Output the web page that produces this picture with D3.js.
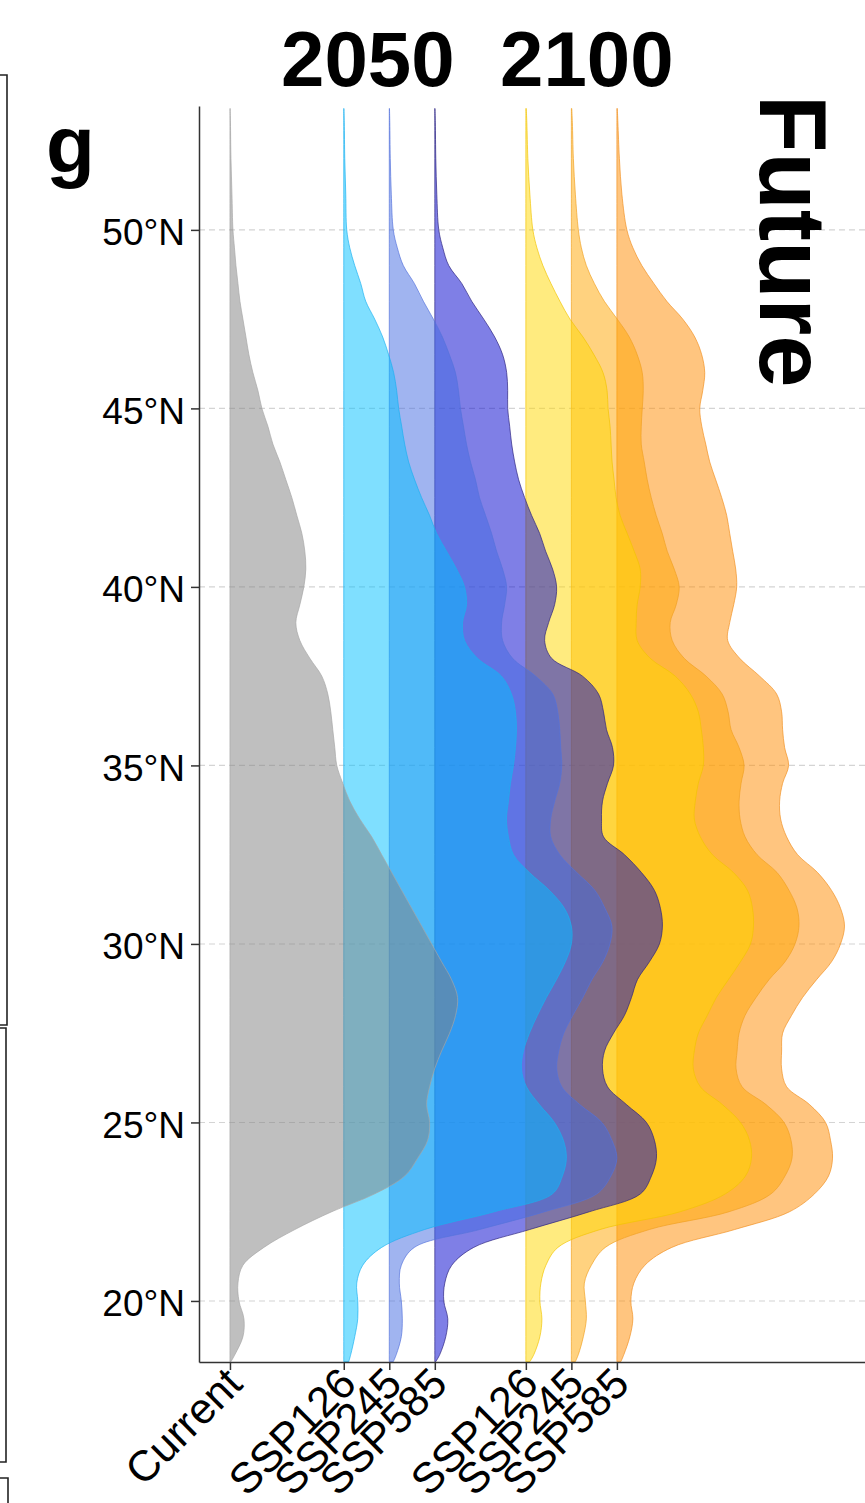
<!DOCTYPE html>
<html>
<head>
<meta charset="utf-8">
<script src="https://cdn.jsdelivr.net/npm/d3@7"></script>
<style>
  html, body { margin: 0; padding: 0; background: #fff; }
  svg { display: block; font-family: "Liberation Sans", Arial, Helvetica, sans-serif; }
</style>
</head>
<body>
<svg id="chart" width="865" height="1503"></svg>
<script>
// Latitude grid (°N) at which each distribution density is sampled
const latitudes = [18.3, 18.5, 19, 19.5, 20, 20.5, 21, 21.5, 22, 22.5, 23, 23.5, 24, 24.5, 25, 25.5,
  26, 26.5, 27, 27.5, 28, 28.5, 29, 29.5, 30, 30.5, 31, 31.5, 32, 32.5, 33, 33.5, 34, 34.5, 35, 35.5,
  36, 36.5, 37, 37.5, 38, 38.5, 39, 39.5, 40, 40.5, 41, 41.5, 42, 42.5, 43, 43.5, 44, 44.5, 45, 45.5,
  46, 46.5, 47, 47.5, 48, 48.5, 49, 49.5, 50, 51, 52, 53, 53.4];

// Scenario labels and the period each one belongs to
const scenarios = ["Current", "SSP126", "SSP245", "SSP585", "SSP126", "SSP245", "SSP585"];
const periods = ["Current", "2050", "2050", "2050", "2100", "2100", "2100"];
const periodTitles = ["2050", "2100"];

// Relative density of suitable habitat along latitude (one value per latitude)
const densityCurrent = [1, 5, 13, 14, 9, 8, 13, 34, 65, 102, 145, 175, 188, 198, 200, 197, 200, 205, 212, 220,
  226, 228, 222, 212, 202, 192, 182, 172, 162, 152, 142, 130, 120, 113, 107, 105, 103, 101, 98, 92,
  80, 70, 66, 70, 74, 76, 75, 72, 67, 62, 56, 50, 43, 38, 32, 28, 23, 19, 16, 13,
  10, 8, 6, 4.5, 3, 2, 1, 0.5, 0.2];
const density2050SSP126 = [5, 7, 11, 14, 14, 13, 19, 38, 81, 151, 209, 219, 223, 220, 211, 196, 183, 178, 180, 186,
  194, 203, 213, 222, 228, 228, 221, 206, 186, 170, 165, 163, 165, 167, 170, 172, 173, 172, 168, 158,
  134, 121, 119, 123, 121, 113, 103, 93, 86, 78, 71, 65, 61, 58, 55, 53, 50, 45, 39, 31,
  22, 17, 11, 6, 3, 2, 1, 0.5, 0.2];
const density2050SSP245 = [4, 7, 12, 13, 12, 10, 12, 25, 90, 155, 207, 221, 227, 222, 212, 190, 172, 167, 169, 174,
  183, 193, 202, 213, 220, 222, 215, 205, 187, 170, 161, 161, 165, 170, 172, 171, 170, 168, 163, 146,
  123, 113, 112, 115, 117, 113, 107, 102, 96, 90, 86, 81, 77, 74, 71, 69, 66, 60, 53, 44,
  34, 25, 14, 8, 4, 2, 1, 0.5, 0.2];
const density2050SSP585 = [1, 5, 11, 13, 9, 10, 17, 39, 95, 155, 206, 217, 222, 220, 212, 192, 173, 168, 170, 179,
  190, 197, 203, 215, 225, 228, 226, 220, 207, 190, 169, 167, 168, 173, 179, 178, 172, 169, 164, 148,
  117, 110, 114, 120, 122, 118, 111, 105, 97, 90, 84, 80, 77, 75, 73, 73, 72, 68, 60, 49,
  37, 27, 14, 8, 4, 2, 1, 0.5, 0.2];
const density2100SSP126 = [4, 8, 14, 16, 14, 15, 20, 32, 74, 154, 199, 219, 225, 223, 214, 196, 174, 167, 168, 172,
  181, 190, 202, 214, 224, 227, 226, 221, 207, 186, 174, 168, 169, 172, 177, 177, 175, 172, 164, 149,
  124, 111, 110, 111, 114, 114, 108, 101, 94, 90, 88, 86, 85, 84, 82, 81, 77, 68, 57, 44,
  34, 25, 17, 11, 7, 4, 2, 1, 0.4];
const density2100SSP245 = [4, 7, 12, 15, 14, 13, 20, 34, 78, 158, 200, 214, 221, 220, 213, 195, 171, 165, 166, 168,
  174, 185, 198, 214, 224, 228, 226, 218, 206, 186, 174, 169, 168, 170, 173, 168, 160, 157, 151, 135,
  113, 101, 99, 105, 108, 103, 96, 91, 85, 80, 76, 73, 70, 70, 71, 72, 71, 66, 58, 46,
  33, 23, 15, 10, 7, 4, 2, 1, 0.4];
const density2100SSP585 = [4, 7, 13, 16, 14, 17, 28, 55, 118, 173, 198, 212, 216, 214, 209, 193, 170, 165, 165, 166,
  175, 186, 200, 215, 224, 228, 224, 215, 201, 181, 170, 164, 163, 166, 172, 168, 166, 165, 160, 143,
  123, 111, 113, 117, 120, 119, 116, 113, 110, 105, 99, 93, 89, 85, 83, 86, 88, 85, 78, 66,
  50, 37, 25, 16, 10, 5, 2.5, 1, 0.4];

const latTicks = [20, 25, 30, 35, 40, 45, 50];

// ---- styling ----
const fills = ["#7f7f7f", "#00bfff", "#4169e1", "#0000cd", "#ffd700", "#ffa500", "#ff8c00"];
const strokes = ["#a6a6a6", "#1ab0f0", "#5572dc", "#2a217e", "#f2c400", "#f0a020", "#f09020"];
const fillOpacity = 0.5;

const densities = [densityCurrent, density2050SSP126, density2050SSP245, density2050SSP585,
  density2100SSP126, density2100SSP245, density2100SSP585];

// Slot of each violin on the horizontal axis: current first, then one block per period
const blockStart = { "Current": 0, "2050": 2.5, "2100": 6.5 };
const series = scenarios.map((s, i) => {
  const within = periods.slice(0, i).filter(p => p === periods[i]).length;
  return {
    key: periods[i] + "-" + s,
    scenario: s,
    period: periods[i],
    slot: blockStart[periods[i]] + within,
    values: densities[i],
    max: d3.max(densities[i]),
    fill: fills[i],
    stroke: strokes[i]
  };
});

const svg = d3.select("#chart");
const plotLeft = 199, plotRight = 870, plotTop = 106, plotBottom = 1362;
const halfWidth = 5; // violin width, in slot units, at the density peak

const x = d3.scaleLinear().domain([-0.68, 14.06]).range([plotLeft, plotRight]);
const y = d3.scaleLinear().domain([18.29, 53.47]).range([plotBottom, plotTop]);

// Neighbouring panel frames on the left edge
svg.append("path")
  .attr("d", "M0,75H7V1025H0M0,1028H6V1462H0M0,1478H8V1503")
  .attr("fill", "none").attr("stroke", "#222").attr("stroke-width", 1.6);

// Dashed latitude grid
svg.append("g").selectAll("line").data(latTicks).join("line")
  .attr("x1", plotLeft).attr("x2", 865)
  .attr("y1", d => y(d)).attr("y2", d => y(d))
  .attr("stroke", "#d4d4d4").attr("stroke-width", 1.1)
  .attr("stroke-dasharray", "6,4");

// Half violins
const area = d3.area()
  .y(d => y(d.lat))
  .x0(d => x(d.slot))
  .x1(d => x(d.slot + halfWidth * d.v / d.max))
  .curve(d3.curveCatmullRom.alpha(0.5));

svg.append("g").selectAll("path")
  .data(series.slice().reverse())
  .join("path")
  .attr("d", s => area(latitudes.map((lat, j) => ({ lat, v: s.values[j], slot: s.slot, max: s.max }))))
  .attr("fill", s => s.fill)
  .attr("fill-opacity", fillOpacity)
  .attr("stroke", s => s.stroke)
  .attr("stroke-width", 0.8)
  .attr("stroke-opacity", 0.85);

// Y axis
const yAxis = d3.axisLeft(y).tickValues(latTicks).tickSize(8).tickSizeOuter(0).tickPadding(6)
  .tickFormat(d => d + "°N");
const gy = svg.append("g").attr("transform", `translate(${plotLeft},0)`).call(yAxis);
gy.select(".domain").attr("stroke", "#333").attr("stroke-width", 1.5);
gy.selectAll(".tick line").attr("stroke", "#333").attr("stroke-width", 1.5);
gy.selectAll(".tick text").attr("font-size", 37).attr("fill", "#000")
  .attr("font-family", "Liberation Sans, Arial, sans-serif").attr("dy", "0.4em");

// X axis with rotated scenario labels
const xAxis = d3.axisBottom(x).tickValues(series.map(s => s.slot)).tickSize(8).tickSizeOuter(0)
  .tickFormat((d, i) => series[i].scenario);
const gx = svg.append("g").attr("transform", `translate(0,${plotBottom})`).call(xAxis);
gx.select(".domain").attr("stroke", "#333").attr("stroke-width", 1.5);
gx.selectAll(".tick line").attr("stroke", "#333").attr("stroke-width", 1.5);
gx.selectAll(".tick text")
  .attr("font-size", 43).attr("fill", "#000")
  .attr("font-family", "Liberation Sans, Arial, sans-serif")
  .attr("text-anchor", "end")
  .attr("dominant-baseline", "hanging")
  .attr("x", 0).attr("y", 0).attr("dy", null)
  .attr("transform", "translate(-8,2) rotate(-45)");

// Period titles
const titleX = { "2050": 281, "2100": 500 };
svg.append("g").selectAll("text").data(periodTitles).join("text")
  .attr("x", d => titleX[d]).attr("y", 86)
  .attr("font-size", 78).attr("font-weight", "bold").attr("fill", "#000")
  .text(d => d);

// Panel letter
svg.append("text").attr("x", 46).attr("y", 172)
  .attr("font-size", 80).attr("font-weight", "bold").attr("fill", "#000").text("g");

// Strip label
svg.append("text").attr("transform", "translate(760,95) rotate(90)")
  .attr("font-size", 94).attr("font-weight", "bold").attr("fill", "#000").text("Future");
</script>
</body>
</html>
